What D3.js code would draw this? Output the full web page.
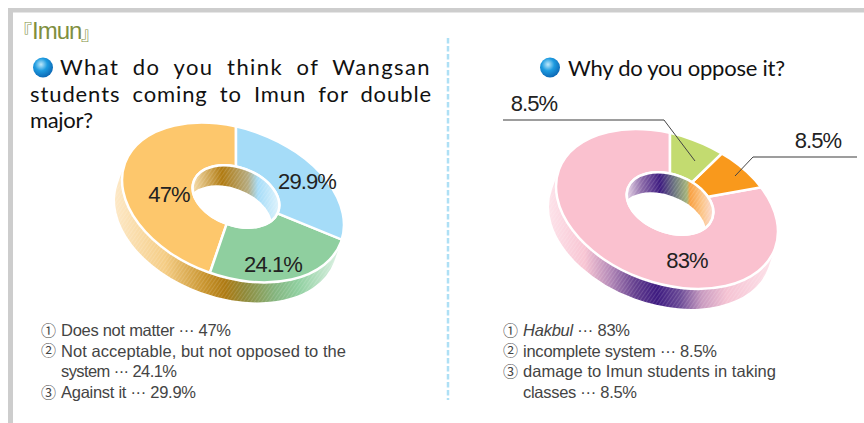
<!DOCTYPE html>
<html>
<head>
  <title>Imun survey</title>
  <script src="https://cdnjs.cloudflare.com/ajax/libs/d3/7.8.5/d3.min.js"></script>
  <style>
    html, body { margin: 0; background: #fff; }
    svg { display: block; }
    .question { font-family: Lato, sans-serif; font-size: 22px; fill: #111; }
    .value { font-family: "Liberation Sans", Arial, sans-serif; font-size: 22px; fill: #222; text-anchor: middle; letter-spacing: -0.9px; }
    .legend { font-family: "Liberation Sans", Arial, sans-serif; font-size: 16.5px; fill: #444; }
    .mark { font-family: "Noto Sans CJK KR", sans-serif; font-size: 15px; fill: #444; }
  </style>
</head>
<body>
<div id="chart"></div>
<script>
// left donut, values in legend order, drawn counter-clockwise from the top
var leftLabels = ["Does not matter", "Not acceptable, but not opposed to the system", "Against it"];
var leftValues = [47, 24.1, 29.9];
var leftColors = ["#fdc76c", "#8fcf9f", "#a5dcf8"];

var rightLabels = ["Hakbul", "incomplete system", "damage to Imun students in taking classes"];
var rightValues = [83, 8.5, 8.5];
var rightColors = ["#fac1cf", "#f9991c", "#c3db70"];

var width = 864, height = 423;
var svg = d3.select("#chart").append("svg").attr("width", width).attr("height", height);
var defs = svg.append("defs");

// frame
svg.append("rect").attr("x", 8).attr("y", 8).attr("width", width - 8).attr("height", 4.5).attr("fill", "#cdcdcd");
svg.append("rect").attr("x", 8).attr("y", 8).attr("width", 5).attr("height", height - 8).attr("fill", "#cdcdcd");

svg.append("line").attr("x1", 448).attr("x2", 448).attr("y1", 38).attr("y2", 400)
    .attr("stroke", "#aee0f5").attr("stroke-width", 2.5).attr("stroke-dasharray", "5.5 2.5");

// section title, brackets are small and sit apart from the word
svg.append("text").attr("x", 14).attr("y", 38)
    .attr("font-family", "'Noto Sans CJK KR', sans-serif").attr("font-size", 18)
    .attr("fill", "#7f8f3f").text("『");
svg.append("text").attr("x", 32).attr("y", 39)
    .attr("font-family", "'Liberation Sans', sans-serif").attr("font-size", 24).attr("letter-spacing", -1)
    .attr("fill", "#7f8f3f").text("Imun");
svg.append("text").attr("x", 81).attr("y", 40)
    .attr("font-family", "'Noto Sans CJK KR', sans-serif").attr("font-size", 18)
    .attr("fill", "#7f8f3f").text("』");

// glossy bullet
var ball = defs.append("radialGradient").attr("id", "ball").attr("cx", "40%").attr("cy", "35%").attr("r", "70%");
ball.append("stop").attr("offset", "0%").attr("stop-color", "#bfe9fb");
ball.append("stop").attr("offset", "45%").attr("stop-color", "#1d9be0");
ball.append("stop").attr("offset", "100%").attr("stop-color", "#0a62b0");
[[43, 67.5], [550, 67.5]].forEach(function(p) {
  svg.append("circle").attr("cx", p[0]).attr("cy", p[1]).attr("r", 10).attr("fill", "url(#ball)");
});

// justified lines: fixed letter spacing, the rest goes between the words
function justified(x, y, len, spacing, s) {
  var t = svg.append("text").attr("class", "question").attr("x", x).attr("y", y)
      .attr("letter-spacing", spacing).text(s);
  var gaps = s.split(" ").length - 1;
  t.attr("word-spacing", (len - t.node().getComputedTextLength()) / gaps);
}
function question(x, y, len, s) {
  svg.append("text").attr("class", "question").attr("x", x).attr("y", y)
      .attr("textLength", len).attr("lengthAdjust", "spacing").text(s);
}
justified(60, 75, 371, 1.4, "What do you think of Wangsan");
justified(30, 102, 402, 0.9, "students coming to Imun for double");
question(30, 128, 63, "major?");
question(568, 75.5, 217, "Why do you oppose it?");

// screen tone laid over the shaded walls
var tone = defs.append("pattern").attr("id", "tone").attr("patternUnits", "userSpaceOnUse")
    .attr("width", 3).attr("height", 3).attr("patternTransform", "rotate(35)");
tone.append("rect").attr("width", 1).attr("height", 3).attr("fill", "#fff").attr("fill-opacity", 0.14);

var tilt = 20, rx = 115, ry = 74, holeR = 0.39, startDeg = -13.2;
var shift = [-7, 20];

function lerpStops(id, x0, x1, stops) {
  var pos = d3.scaleLinear().domain([x0, x1]).range([0, 100]);
  var g = defs.append("linearGradient").attr("id", id).attr("gradientUnits", "userSpaceOnUse")
      .attr("x1", x0).attr("x2", x1).attr("y1", 0).attr("y2", 0);
  stops.forEach(function(s) {
    g.append("stop").attr("offset", pos(s[0]) + "%").attr("stop-color", s[1]);
  });
}

function project(cx, cy) {
  return "translate(" + cx + "," + cy + ") rotate(" + tilt + ") scale(" + rx + "," + ry + ")";
}

function donut(id, o) {
  var g = svg.append("g");
  var unit = d3.arc().innerRadius(0).outerRadius(1).startAngle(0).endAngle(2 * Math.PI);
  var steps = d3.range(0, 1.001, 0.05);

  // side wall: outer ellipse swept along the extrusion, painted by a gradient
  lerpStops(id + "-wall", o.box[0], o.box[1], o.wallStops);
  var wallClip = defs.append("clipPath").attr("id", id + "-wallclip");
  wallClip.selectAll("path").data(steps).enter().append("path")
      .attr("d", unit())
      .attr("transform", function(k) { return project(o.outer[0] + shift[0] * k, o.outer[1] + shift[1] * k); });
  ["url(#" + id + "-wall)", "url(#tone)"].forEach(function(fill) {
    g.append("rect").attr("x", o.box[0]).attr("y", o.box[2])
        .attr("width", o.box[1] - o.box[0]).attr("height", o.box[3] - o.box[2])
        .attr("fill", fill).attr("clip-path", "url(#" + id + "-wallclip)");
  });

  // top face: wedges around the hole centre, cut by the outer ellipse
  var capClip = defs.append("clipPath").attr("id", id + "-capclip");
  capClip.append("path").attr("d", unit()).attr("transform", project(o.outer[0], o.outer[1]));

  var start = startDeg * Math.PI / 180;
  var arcs = d3.pie().sort(null).startAngle(start).endAngle(start - 2 * Math.PI)(o.values);
  var wedge = d3.arc().innerRadius(holeR).outerRadius(1.6);
  g.append("g").attr("clip-path", "url(#" + id + "-capclip)")
    .selectAll("path").data(arcs).enter().append("path")
      .attr("d", function(d) { return wedge({startAngle: d.endAngle, endAngle: d.startAngle}); })
      .attr("transform", project(o.hole[0], o.hole[1]))
      .attr("fill", function(d, i) { return o.colors[i]; })
      .attr("stroke", "#fff").attr("stroke-width", 2.5)
      .attr("vector-effect", "non-scaling-stroke");
  g.append("path").attr("d", unit()).attr("transform", project(o.outer[0], o.outer[1]))
      .attr("fill", "none").attr("stroke", "#fff").attr("stroke-width", 2.5)
      .attr("vector-effect", "non-scaling-stroke");

  // inner wall seen through the hole
  var holeArc = d3.arc().innerRadius(0).outerRadius(holeR).startAngle(0).endAngle(2 * Math.PI);
  lerpStops(id + "-hole", o.holeBox[0], o.holeBox[1], o.holeStops);
  var holeClip = defs.append("clipPath").attr("id", id + "-holeclip");
  holeClip.append("path").attr("d", holeArc()).attr("transform", project(o.hole[0], o.hole[1]));
  var h = g.append("g").attr("clip-path", "url(#" + id + "-holeclip)");
  ["url(#" + id + "-hole)", "url(#tone)"].forEach(function(fill) {
    h.append("rect").attr("x", o.holeBox[0]).attr("y", o.hole[1] - 50)
        .attr("width", o.holeBox[1] - o.holeBox[0]).attr("height", 100)
        .attr("fill", fill);
  });
  h.append("path").attr("d", holeArc()).attr("fill", "#fff")
      .attr("transform", project(o.hole[0] + shift[0], o.hole[1] + shift[1]));
  g.append("path").attr("d", holeArc()).attr("transform", project(o.hole[0], o.hole[1]))
      .attr("fill", "none").attr("stroke", "#fff").attr("stroke-width", 2.5)
      .attr("vector-effect", "non-scaling-stroke");
}

donut("left", {
  values: leftValues, colors: leftColors,
  outer: [233, 202.5], hole: [236, 196.5],
  box: [110, 350, 110, 320], holeBox: [190, 285],
  wallStops: [[115, "#fde8c6"], [165, "#f5cd85"], [205, "#c8942e"], [225, "#ae7a12"], [245, "#8f8a3a"], [275, "#84b57f"], [298, "#8fcf9f"], [335, "#d5eedd"]],
  holeStops: [[194, "#f3d9a5"], [222, "#b07a10"], [248, "#b5ab80"], [258, "#a5dcf8"], [282, "#e6f6fd"]]
});

donut("right", {
  values: rightValues, colors: rightColors,
  outer: [667, 209], hole: [670, 203.5],
  box: [540, 785, 115, 325], holeBox: [620, 720],
  wallStops: [[548, "#fde3ea"], [585, "#f8c5d3"], [610, "#b58ab8"], [635, "#65408f"], [657, "#3d1a80"], [680, "#6a4a96"], [702, "#c99bc0"], [727, "#f5c3d3"], [775, "#fde3ea"]],
  holeStops: [[627, "#e6d3e6"], [642, "#8b6aa8"], [660, "#3d1a80"], [675, "#6f7a80"], [687, "#a5b47a"], [690, "#f9a040"], [702, "#fcc588"], [716, "#fbe0e6"]]
});

// value labels
var labels = [
  ["47%", 169, 201.5], ["24.1%", 273, 271.5], ["29.9%", 307, 188.5],
  ["83%", 687, 267.5], ["8.5%", 534, 111], ["8.5%", 818, 148]
];
svg.selectAll("text.value").data(labels).enter().append("text").attr("class", "value")
    .attr("x", function(d) { return d[1]; }).attr("y", function(d) { return d[2]; })
    .text(function(d) { return d[0]; });

// leaders
var line = d3.line();
svg.append("path").attr("d", line([[503, 120], [664, 120]])).attr("fill", "none").attr("stroke", "#7d7d7d").attr("stroke-width", 1.6);
svg.append("path").attr("d", line([[664, 120], [695, 161]])).attr("fill", "none").attr("stroke", "#444").attr("stroke-width", 1);
svg.append("path").attr("d", line([[857, 157], [753, 157]])).attr("fill", "none").attr("stroke", "#7d7d7d").attr("stroke-width", 1.6);
svg.append("path").attr("d", line([[753, 157], [735, 176]])).attr("fill", "none").attr("stroke", "#444").attr("stroke-width", 1);

// legends: [marker, text, italic lead, width]
function legend(x, rows) {
  rows.forEach(function(r, i) {
    var y = 336 + i * 20.7;
    if (r[0]) svg.append("text").attr("class", "mark").attr("x", x).attr("y", y - 0.5).text(r[0]);
    var t = svg.append("text").attr("class", "legend").attr("x", x + 20).attr("y", y)
        .attr("textLength", r[3]).attr("lengthAdjust", "spacing");
    if (r[2]) t.append("tspan").attr("font-style", "italic").text(r[2]);
    t.append("tspan").text(r[1]);
  });
}
legend(41, [
  ["①", leftLabels[0] + " ··· " + leftValues[0] + "%", null, 170],
  ["②", "Not acceptable, but not opposed to the", null, 285],
  [null, "system ··· " + leftValues[1] + "%", null, 116],
  ["③", leftLabels[2] + " ··· " + leftValues[2] + "%", null, 135]
]);
legend(503, [
  ["①", " ··· " + rightValues[0] + "%", rightLabels[0], 107],
  ["②", rightLabels[1] + " ··· " + rightValues[1] + "%", null, 194],
  ["③", "damage to Imun students in taking", null, 253],
  [null, "classes ··· " + rightValues[2] + "%", null, 114]
]);
</script>
</body>
</html>
